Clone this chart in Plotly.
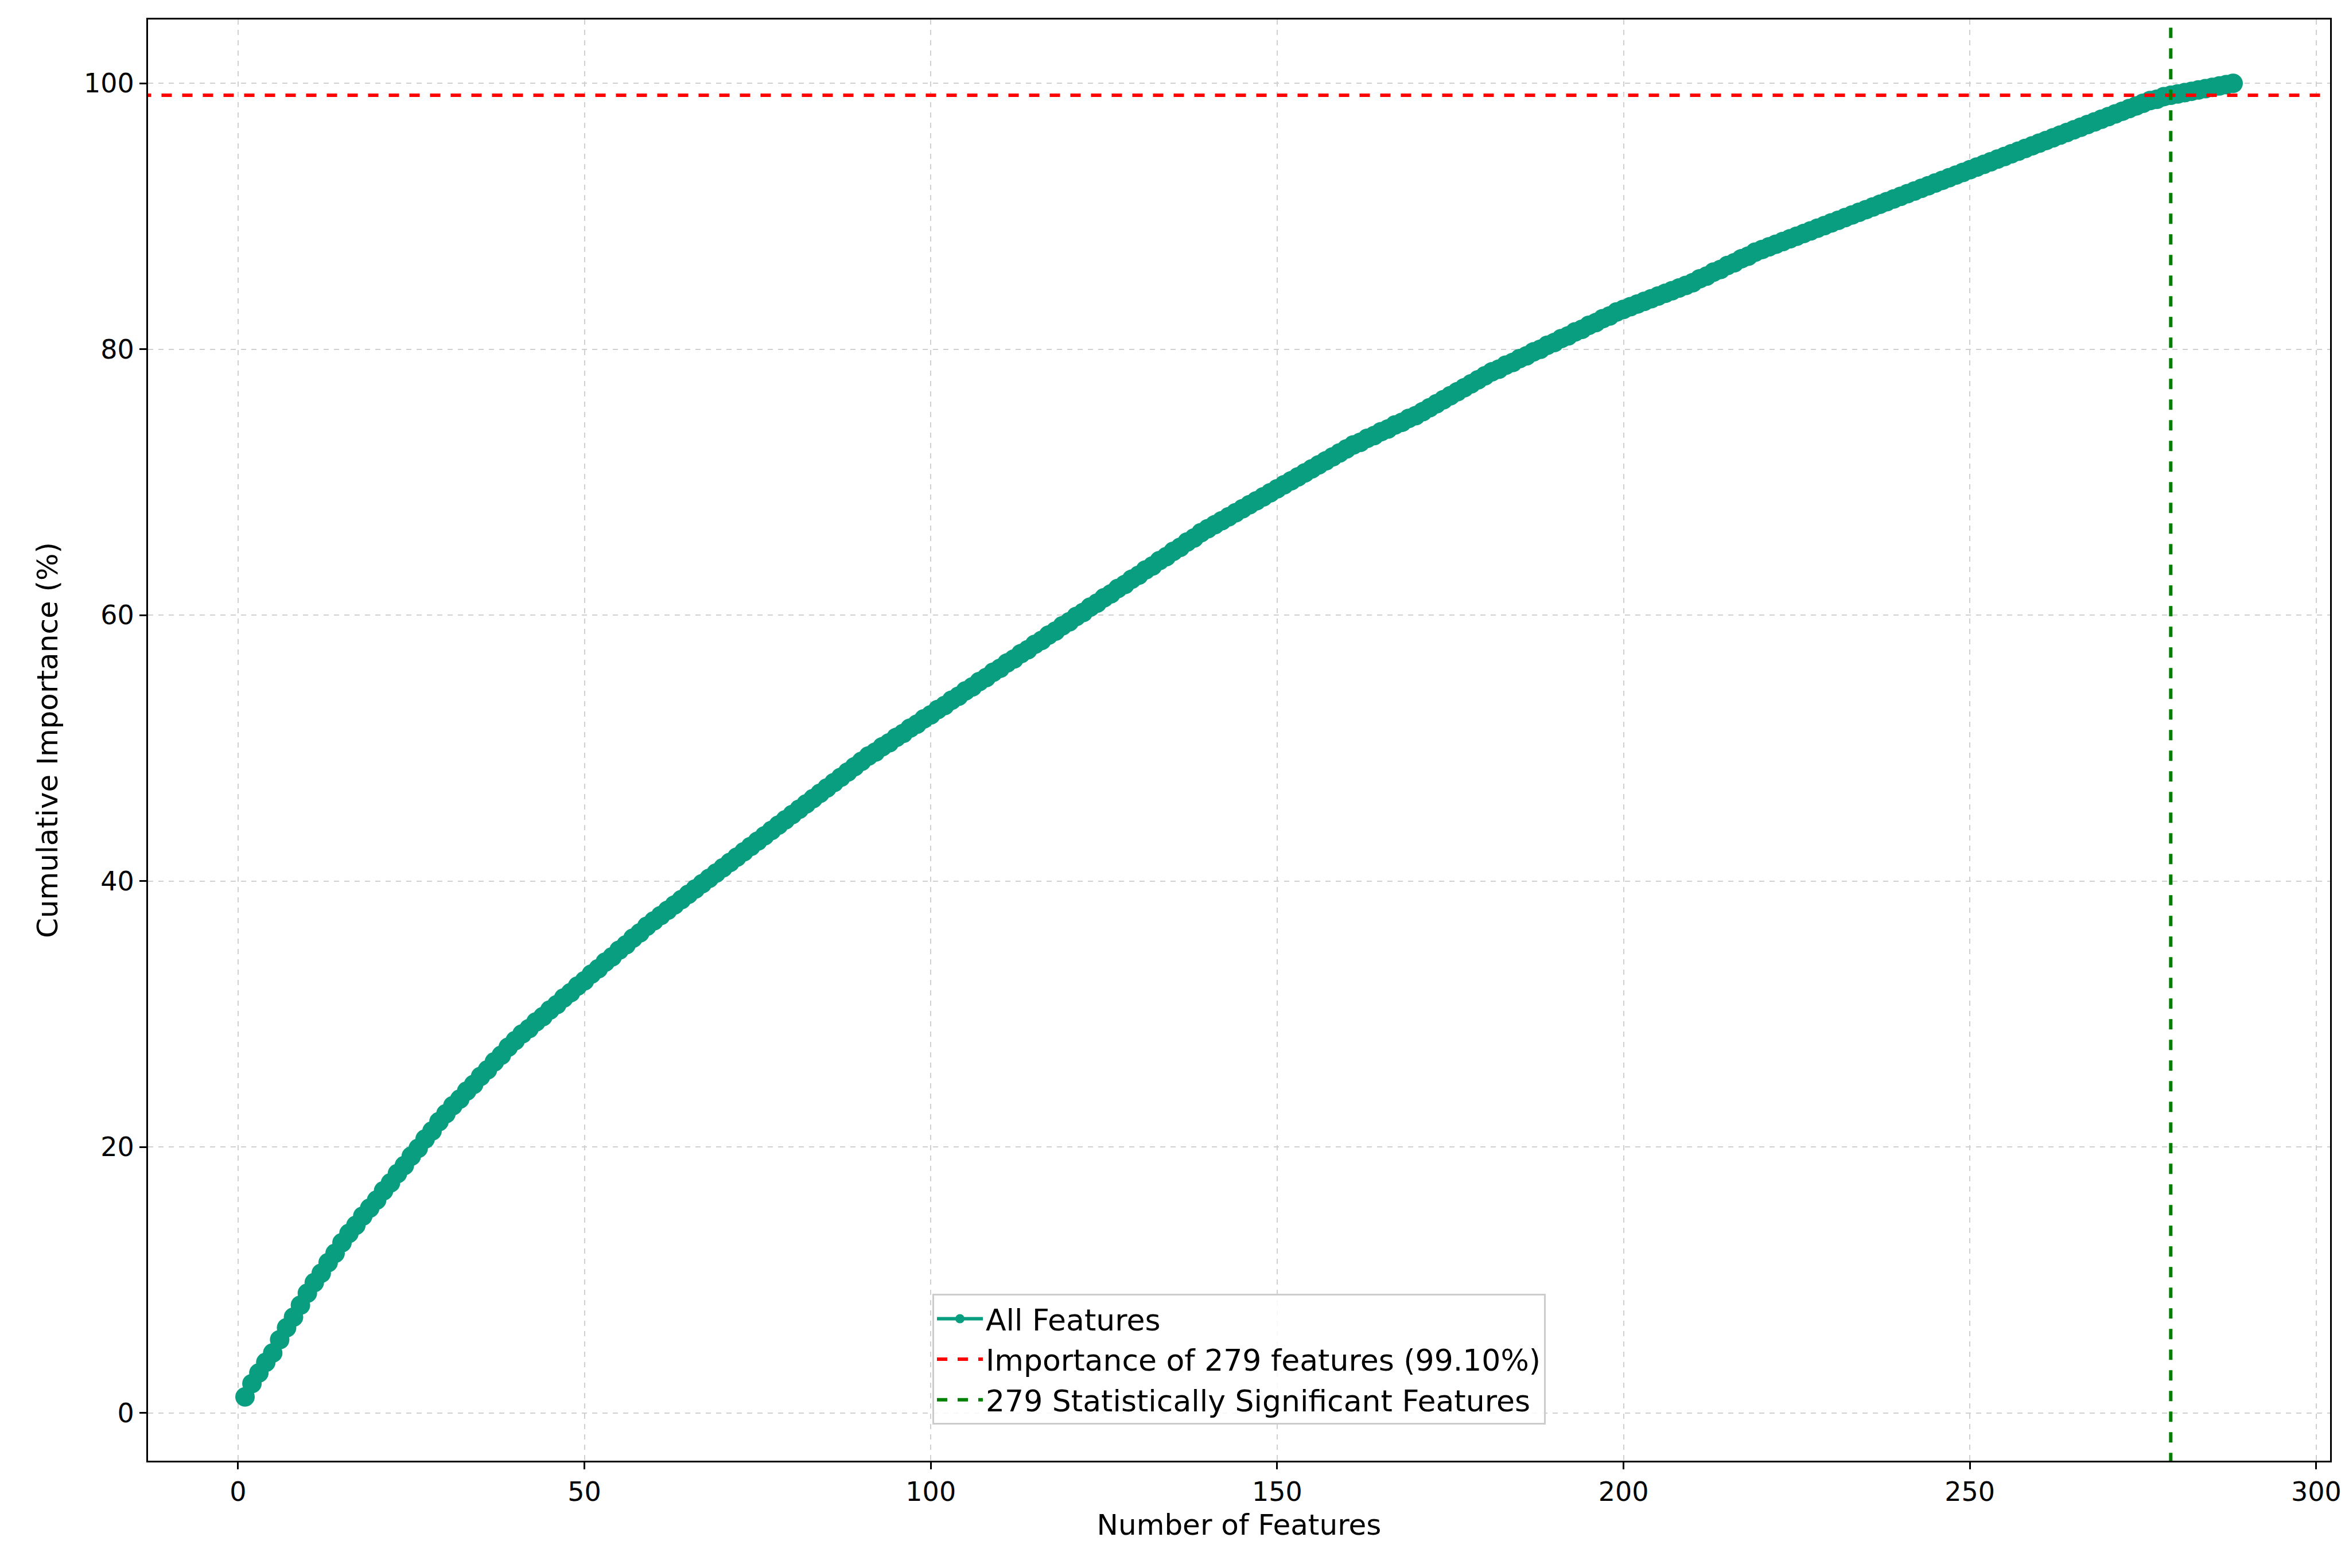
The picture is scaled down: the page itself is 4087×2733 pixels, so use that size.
import plotly.graph_objects as go

cumulative = [
1.2,2.2,3.0,3.8,4.5,5.5,6.4,7.2,8.1,9.0,
9.8,10.5,11.3,12.0,12.8,13.5,14.1,14.8,15.4,16.0,
16.7,17.3,18.0,18.6,19.3,19.9,20.6,21.2,21.9,22.5,
23.1,23.6,24.2,24.7,25.3,25.8,26.4,26.9,27.5,28.0,
28.5,28.9,29.4,29.8,30.3,30.7,31.2,31.6,32.1,32.5,
33.0,33.4,33.9,34.3,34.8,35.2,35.7,36.1,36.6,37.0,
37.4,37.8,38.2,38.6,39.0,39.4,39.8,40.2,40.6,41.0,
41.4,41.8,42.2,42.6,43.0,43.4,43.8,44.2,44.6,45.0,
45.4,45.8,46.2,46.6,47.0,47.4,47.8,48.2,48.6,49.0,
49.4,49.7,50.1,50.4,50.8,51.1,51.5,51.8,52.2,52.5,
52.9,53.2,53.6,53.9,54.3,54.6,55.0,55.3,55.7,56.0,
56.4,56.7,57.1,57.4,57.8,58.1,58.5,58.8,59.2,59.5,
59.9,60.2,60.6,60.9,61.3,61.6,62.0,62.3,62.7,63.0,
63.4,63.7,64.1,64.4,64.8,65.1,65.5,65.8,66.2,66.5,
66.8,67.1,67.4,67.7,68.0,68.3,68.6,68.9,69.2,69.5,
69.8,70.1,70.4,70.7,71.0,71.3,71.6,71.9,72.2,72.5,
72.8,73.0,73.3,73.5,73.8,74.0,74.3,74.5,74.8,75.0,
75.3,75.6,75.9,76.2,76.5,76.8,77.1,77.4,77.7,78.0,
78.3,78.5,78.8,79.0,79.3,79.5,79.8,80.0,80.3,80.5,
80.8,81.0,81.3,81.5,81.8,82.0,82.3,82.5,82.8,83.0,
83.2,83.4,83.6,83.8,84.0,84.2,84.4,84.6,84.8,85.0,
85.3,85.5,85.8,86.0,86.3,86.5,86.8,87.0,87.3,87.5,
87.7,87.9,88.1,88.3,88.5,88.7,88.9,89.1,89.3,89.5,
89.7,89.9,90.1,90.3,90.5,90.7,90.9,91.1,91.3,91.5,
91.7,91.9,92.1,92.3,92.5,92.7,92.9,93.1,93.3,93.5,
93.7,93.9,94.1,94.3,94.5,94.7,94.9,95.1,95.3,95.5,
95.7,95.9,96.1,96.3,96.5,96.7,96.9,97.1,97.3,97.5,
97.7,97.9,98.1,98.3,98.5,98.7,98.8,99.0,99.1,
99.2,99.3,99.4,99.5,99.6,99.7,99.8,99.9,100.0,
]
n_features = list(range(1, len(cumulative) + 1))
threshold_pct = 99.10
significant_n = 279
x_ticks = [0, 50, 100, 150, 200, 250, 300]
y_ticks = [0, 20, 40, 60, 80, 100]

teal = "#0a9e80"
fig = go.Figure()
fig.add_trace(go.Scatter(x=n_features, y=cumulative, mode="lines+markers",
    name="All Features", line=dict(color=teal, width=6),
    marker=dict(color=teal, size=34)))
fig.add_trace(go.Scatter(x=[-20, 310], y=[threshold_pct, threshold_pct], mode="lines",
    name=f"Importance of {significant_n} features ({threshold_pct:.2f}%)",
    line=dict(color="red", width=6, dash="dash")))
fig.add_trace(go.Scatter(x=[significant_n, significant_n], y=[-10, 110], mode="lines",
    name=f"{significant_n} Statistically Significant Features",
    line=dict(color="green", width=6, dash="dash")))

axis_common = dict(showline=True, linecolor="black", linewidth=3, mirror=True,
    ticks="outside", ticklen=12, tickwidth=3, tickcolor="black",
    showgrid=True, gridcolor="#d0d0d0", griddash="dash", gridwidth=2,
    zeroline=False, tickfont=dict(size=46, color="black"),
    title_font=dict(size=50, color="black"))
fig.update_xaxes(range=[-13, 302], tickvals=x_ticks, title_text="Number of Features",
    title_standoff=14, **axis_common)
fig.update_yaxes(range=[-3.6, 104.8], tickvals=y_ticks, title_text="Cumulative Importance (%)",
    title_standoff=30, **axis_common)
fig.update_layout(width=4087, height=2733, plot_bgcolor="white", paper_bgcolor="white",
    font=dict(family="DejaVu Sans", color="black"),
    margin=dict(l=250, r=34, t=26, b=195),
    legend=dict(x=0.5, y=0.025, xanchor="center", yanchor="bottom",
        bgcolor="rgba(255,255,255,0.85)", bordercolor="#cccccc", borderwidth=3,
        font=dict(size=52), itemwidth=80))
fig.write_html("out.html")
